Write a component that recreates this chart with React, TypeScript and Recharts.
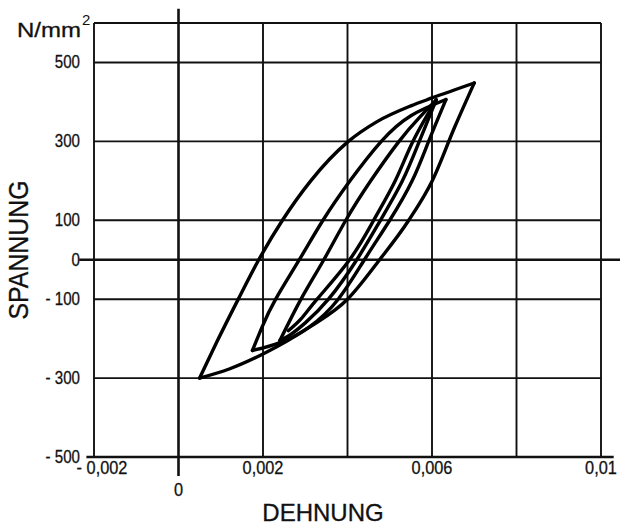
import React from 'react';
import { LineChart, Line, XAxis, YAxis, ReferenceLine } from 'recharts';

const FONT = '"Liberation Sans", Arial, Helvetica, sans-serif';

// Axis ticks / labels
const xTickValues = [-0.002, 0, 0.002, 0.006, 0.01];
const xTickLabels = ['- 0,002', '0', '0,002', '0,006', '0,01'];
const yTickValues = [500, 300, 100, 0, -100, -300, -500];
const yTickLabels = ['500', '300', '100', '0', '- 100', '- 300', '- 500'];
const xGridValues = [-0.002, 0.002, 0.004, 0.006, 0.008, 0.01];
const yGridValues = [600, 500, 300, 100, -100, -300];

const xAxisTitle = 'DEHNUNG';
const yAxisTitle = 'SPANNUNG';
const unitLabel = 'N/mm';
const unitExp = '2';

// Hysteresis branches (strain, stress N/mm²), each ordered by increasing strain
const outerUpStrain = [0.0005, 0.0009, 0.0014, 0.0019, 0.00246, 0.00313, 0.004, 0.0047, 0.0055, 0.006, 0.007];
const outerUpStress = [-300, -210, -103, 0, 100, 200, 298, 350, 390, 410, 448];

const outerDownStrain = [0.0005, 0.0012, 0.002, 0.0031, 0.004, 0.00476, 0.00545, 0.00601, 0.00654, 0.007];
const outerDownStress = [-300, -277, -239, -171, -100, 0, 100, 201, 337, 448];

const loopBUpStrain = [0.00175, 0.00198, 0.0023, 0.00286, 0.00342, 0.00406, 0.0048, 0.0055, 0.00633];
const loopBUpStress = [-230, -170, -100, 0, 100, 200, 300, 365, 406];

const loopBDownStrain = [0.00175, 0.0024, 0.0031, 0.00378, 0.0044, 0.005, 0.00553, 0.00592, 0.00633];
const loopBDownStress = [-230, -210, -170, -100, 0, 100, 200, 300, 406];

const loopCUpStrain = [0.0024, 0.0029, 0.00344, 0.00396, 0.00455, 0.00522, 0.0057, 0.0061];
const loopCUpStress = [-205, -100, 0, 100, 200, 300, 360, 405];

const loopCDownStrain = [0.0024, 0.00265, 0.003, 0.00355, 0.00422, 0.00478, 0.0053, 0.0057, 0.0061];
const loopCDownStress = [-205, -190, -160, -100, 0, 100, 200, 300, 405];

const lastDownStrain = [0.0026, 0.0029, 0.00328, 0.00405, 0.00462, 0.00513, 0.00555, 0.0061];
const lastDownStress = [-180, -150, -100, 0, 100, 200, 300, 405];

const zip = (xs: number[], ys: number[]) => xs.map((x, i) => ({ x, y: ys[i] }));

const branches = [
  { name: 'outerUp', curve: 'monotone', data: zip(outerUpStrain, outerUpStress) },
  { name: 'outerDown', curve: 'monotone', data: zip(outerDownStrain, outerDownStress) },
  { name: 'loopBUp', curve: 'natural', data: zip(loopBUpStrain, loopBUpStress) },
  { name: 'loopBDown', curve: 'natural', data: zip(loopBDownStrain, loopBDownStress) },
  { name: 'loopCUp', curve: 'natural', data: zip(loopCUpStrain, loopCUpStress) },
  { name: 'loopCDown', curve: 'natural', data: zip(loopCDownStrain, loopCDownStress) },
  { name: 'lastDown', curve: 'natural', data: zip(lastDownStrain, lastDownStress) },
];

const XTick = (props: any) => {
  const { x, y, payload } = props;
  const i = xTickValues.indexOf(payload.value);
  const label = i >= 0 ? xTickLabels[i] : '';
  const isZero = payload.value === 0;
  const dx = payload.value < 0 ? 8 : 0;
  const ty = y + (isZero ? 39 : 17);
  return (
    <text
      transform={`translate(${x + dx},${ty}) scale(0.86,1)`}
      textAnchor="middle"
      fontSize={19}
      fontFamily={FONT}
      fill="#111"
      stroke="#111"
      strokeWidth={0.3}
    >
      {label}
    </text>
  );
};

const YTick = (props: any) => {
  const { x, y, payload } = props;
  const i = yTickValues.indexOf(payload.value);
  const label = i >= 0 ? yTickLabels[i] : '';
  return (
    <text
      transform={`translate(${x - 14},${y + 6}) scale(0.84,1)`}
      textAnchor="end"
      fontSize={18}
      fontFamily={FONT}
      fill="#111"
      stroke="#111"
      strokeWidth={0.3}
    >
      {label}
    </text>
  );
};

const renderYTitle = () => (
  <g>
    <text
      transform="translate(28,250) rotate(-90) scale(0.92,1)"
      textAnchor="middle"
      fontSize={27}
      fontFamily={FONT}
      fill="#111"
      stroke="#111"
      strokeWidth={0.3}
    >
      {yAxisTitle}
    </text>
    <text
      transform="translate(17,37) scale(1.2,1)"
      fontSize={20}
      fontFamily={FONT}
      fill="#111"
      stroke="#111"
      strokeWidth={0.3}
    >
      {unitLabel}
    </text>
    <text x={82} y={25} fontSize={15} fontFamily={FONT} fill="#111">
      {unitExp}
    </text>
  </g>
);

const renderXTitle = () => (
  <text x={323} y={521} textAnchor="middle" fontSize={24} fontFamily={FONT} fill="#111" stroke="#111" strokeWidth={0.3}>
    {xAxisTitle}
  </text>
);

export default function App() {
  return (
    <div style={{ position: 'absolute', left: 0, top: 0, width: 620, height: 526, background: '#fff' }}>
      <LineChart width={620} height={526} margin={{ top: 23, right: 19, bottom: 0, left: 0 }}>
        <XAxis
          type="number"
          dataKey="x"
          domain={[-0.002, 0.01]}
          ticks={xTickValues}
          interval={0}
          tick={<XTick />}
          axisLine={false}
          tickLine={false}
          tickSize={0}
          tickMargin={0}
          height={69}
          allowDataOverflow
          label={renderXTitle}
        />
        <YAxis
          type="number"
          dataKey="y"
          domain={[-500, 600]}
          ticks={yTickValues}
          interval={0}
          tick={<YTick />}
          axisLine={false}
          tickLine={false}
          tickSize={0}
          tickMargin={0}
          width={94}
          allowDataOverflow
          label={renderYTitle}
        />
        {xGridValues.map((v) => (
          <ReferenceLine key={'xg' + v} x={v} stroke="#111" strokeWidth={1.9} ifOverflow="visible" />
        ))}
        {yGridValues.map((v) => (
          <ReferenceLine key={'yg' + v} y={v} stroke="#111" strokeWidth={1.9} ifOverflow="visible" />
        ))}
        <ReferenceLine
          segment={[{ x: 0, y: -548 }, { x: 0, y: 636 }]}
          stroke="#111"
          strokeWidth={2.6}
          ifOverflow="visible"
        />
        <ReferenceLine
          segment={[{ x: -0.00235, y: 0 }, { x: 0.0105, y: 0 }]}
          stroke="#111"
          strokeWidth={2.6}
          ifOverflow="visible"
        />
        <ReferenceLine
          segment={[{ x: -0.00218, y: -500 }, { x: 0.0103, y: -500 }]}
          stroke="#111"
          strokeWidth={2.4}
          ifOverflow="visible"
        />
        {branches.map((b) => (
          <Line
            key={b.name}
            data={b.data}
            dataKey="y"
            type={b.curve as any}
            stroke="#000"
            strokeWidth={3.4}
            strokeLinejoin="round"
            strokeLinecap="round"
            dot={false}
            activeDot={false}
            isAnimationActive={false}
          />
        ))}
      </LineChart>
    </div>
  );
}
